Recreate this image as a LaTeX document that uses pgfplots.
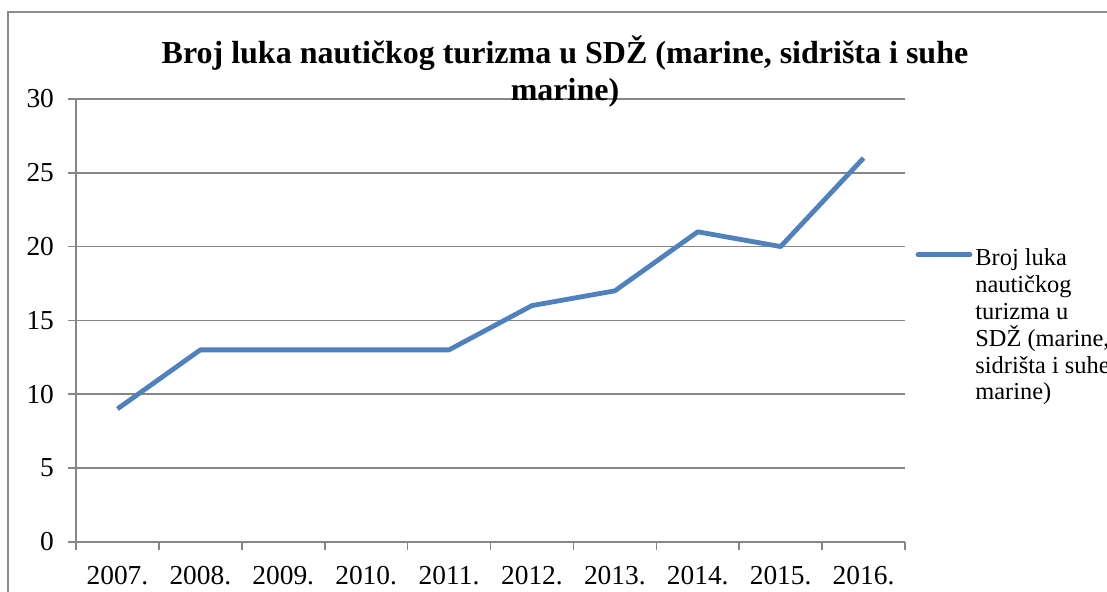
\documentclass[border=0pt]{standalone}
\usepackage{fontspec}
\setmainfont{Liberation Serif}
\usepackage{pgfplots}
\pgfplotsset{compat=1.18}
\definecolor{serblue}{RGB}{79,129,189}
\definecolor{gridgray}{RGB}{134,134,134}
\definecolor{framegray}{RGB}{140,140,140}
\begin{document}
\begin{tikzpicture}
\useasboundingbox (0,0) rectangle (553.5pt,-296pt);
\draw[framegray, line width=0.6pt] (4pt,-300pt) -- (4pt,-6pt) -- (560pt,-6pt);
\begin{axis}[
  at={(38pt,-270.85pt)}, anchor=south west,
  scale only axis, width=414.5pt, height=221.35pt,
  xmin=0.5, xmax=10.5, ymin=0, ymax=30,
  axis x line=bottom, axis y line=left,
  axis line style={-, gridgray, line width=0.8pt},
  ytick={0,5,...,30},
  xtick={1,...,10},
  xticklabels={2007.,2008.,2009.,2010.,2011.,2012.,2013.,2014.,2015.,2016.},
  minor xtick={0.5,1.5,...,10.5},
  major x tick style={draw=none},
  minor x tick style={gridgray, line width=0.8pt},
  y tick style={gridgray, line width=0.8pt},
  tick align=outside,
  major tick length=4pt, minor tick length=4pt,
  ymajorgrids, major grid style={gridgray, line width=0.8pt},
  /pgf/number format/assume math mode=true,
  tick label style={font=\fontsize{13.7}{15}\selectfont, black},
  xticklabel style={yshift=-5pt},
  yticklabel style={xshift=-3.5pt},
]
\addplot[serblue, line width=2.4pt, line join=round] coordinates {
(1,9) (2,13) (3,13) (4,13) (5,13) (6,16) (7,17) (8,21) (9,20) (10,26)
};
\end{axis}
\node[align=center, font=\fontsize{16}{18.5}\selectfont\bfseries] at (282.5pt,-35.75pt)
  {Broj luka nautičkog turizma u SDŽ (marine, sidrišta i suhe\\marine)};
\draw[serblue, line width=2.4pt, line cap=round] (459pt,-127.3pt) -- (485pt,-127.3pt);
\node[anchor=base west, align=left, inner sep=0pt, font=\fontsize{12.2}{13.4}\selectfont] at (487.5pt,-200pt)
  {Broj luka\\nautičkog\\turizma u\\SDŽ (marine,\\sidrišta i suhe\\marine)};
\end{tikzpicture}
\end{document}
